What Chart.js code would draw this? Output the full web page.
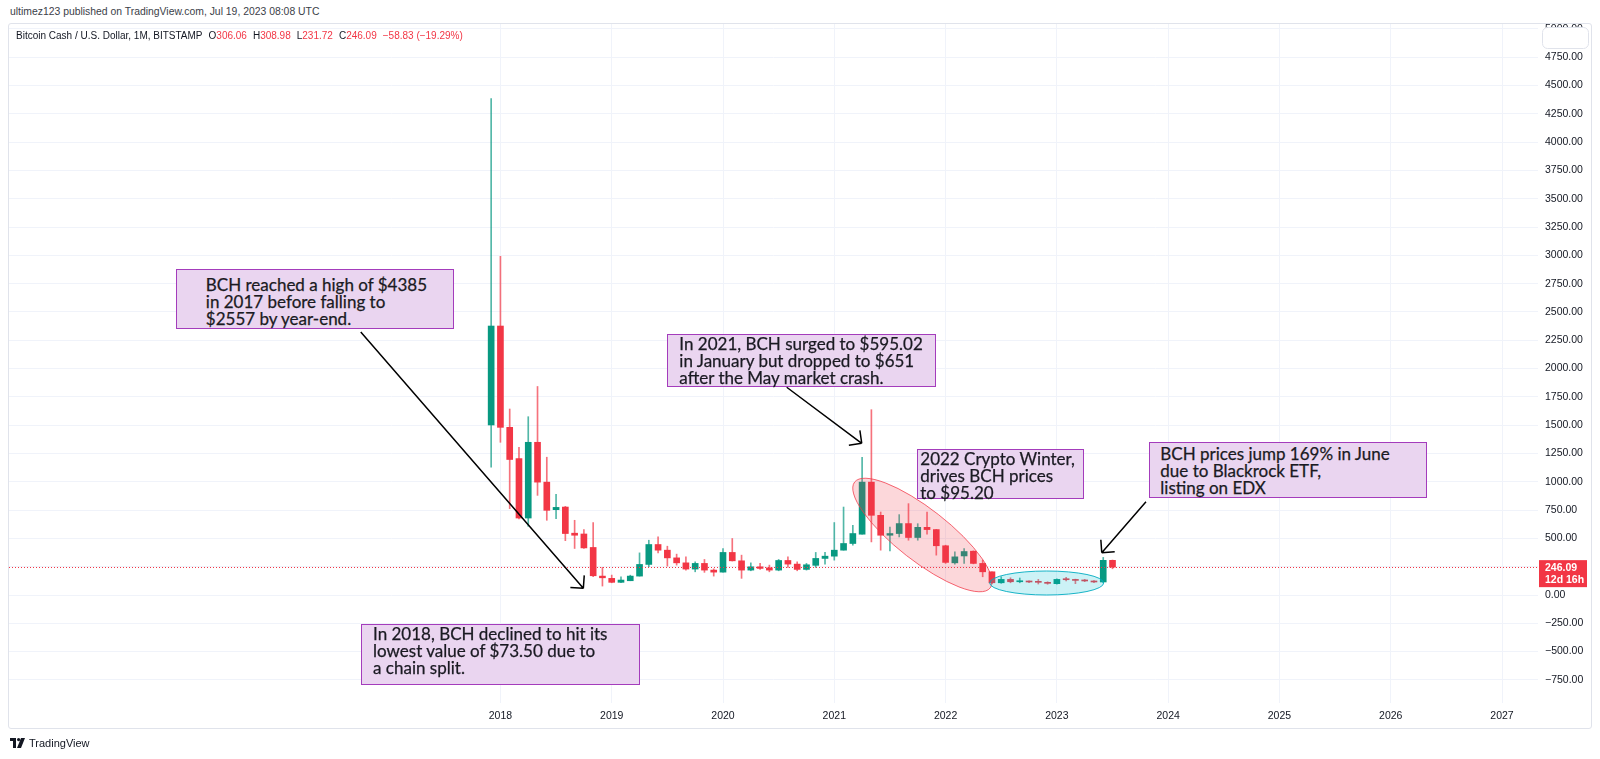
<!DOCTYPE html>
<html>
<head>
<meta charset="utf-8">
<script src="https://cdn.jsdelivr.net/npm/chart.js@4.4.0/dist/chart.umd.min.js"></script>
<style>
  html, body { margin: 0; padding: 0; background: #fff; }
  body { width: 1600px; height: 759px; position: relative; overflow: hidden; font-family: "Liberation Sans", Arial, sans-serif; color: #131722; }
  #frame { position: absolute; left: 8px; top: 23px; width: 1582px; height: 704px; border: 1px solid #e0e3eb; border-radius: 3px; }
  #chart { position: absolute; left: 0; top: 0; }
  #byline { position: absolute; left: 10px; top: 6px; font-size: 10.4px; color: #3b3e48; }
  #legend { position: absolute; left: 16px; top: 30px; font-size: 10px; white-space: pre; }
  #legend .v { color: #f23645; }
  #legend .k { margin-left: 6px; }
  #footer { position: absolute; left: 10px; top: 737px; font-size: 11px; display: flex; align-items: center; gap: 4px; }
  .note { position: absolute; box-sizing: border-box; background: #ead5f0; border: 1px solid #a43cbc;
          font-family: Lato, "Noto Sans", sans-serif; font-size: 17px; line-height: 17px; color: #1a1a22;
          -webkit-text-stroke: 0.25px #1a1a22; white-space: pre; }
</style>
</head>
<body>
<div id="frame"></div>
<div id="byline">ultimez123 published on TradingView.com, Jul 19, 2023 08:08 UTC</div>
<canvas id="chart" width="1600" height="759"></canvas>
<div id="legend">Bitcoin Cash / U.S. Dollar, 1M, BITSTAMP<span class="k">O</span><span class="v">306.06</span><span class="k">H</span><span class="v">308.98</span><span class="k">L</span><span class="v">231.72</span><span class="k">C</span><span class="v">246.09</span><span class="k v">−58.83 (−19.29%)</span></div>
<div id="footer">
  <svg width="15" height="10" viewBox="0 0 15 10"><path d="M0 0h6v10H3V3H0z M11 0h4l-4 10H7z" fill="#131722"/><circle cx="8.6" cy="1.6" r="1.6" fill="#131722"/></svg>
  <span>TradingView</span>
</div>

<script>
// monthly candles, BCH/USD Bitstamp
const months = [
  '2017-12',
  '2018-01','2018-02','2018-03','2018-04','2018-05','2018-06','2018-07','2018-08','2018-09','2018-10','2018-11','2018-12',
  '2019-01','2019-02','2019-03','2019-04','2019-05','2019-06','2019-07','2019-08','2019-09','2019-10','2019-11','2019-12',
  '2020-01','2020-02','2020-03','2020-04','2020-05','2020-06','2020-07','2020-08','2020-09','2020-10','2020-11','2020-12',
  '2021-01','2021-02','2021-03','2021-04','2021-05','2021-06','2021-07','2021-08','2021-09','2021-10','2021-11','2021-12',
  '2022-01','2022-02','2022-03','2022-04','2022-05','2022-06','2022-07','2022-08','2022-09','2022-10','2022-11','2022-12',
  '2023-01','2023-02','2023-03','2023-04','2023-05','2023-06','2023-07'
];
const opens = [
  1502,
  2376, 1481, 1205, 680, 1349, 997, 754, 777, 546, 539, 420, 167,
  147, 112, 126, 167, 270, 446, 396, 328, 284, 229, 279, 220,
  202, 376, 302, 220, 249, 240, 220, 305, 273, 226, 262, 323,
  343, 396, 455, 537, 997, 704, 528, 543, 631, 508, 598, 578,
  435, 284, 345, 387, 279, 205, 108, 138, 117, 120, 117, 112,
  100, 138, 135, 129, 124, 115, 306.06
];
const highs = [
  4385,
  2992, 1643, 1305, 1575, 1842, 1217, 889, 783, 660, 578, 640, 244,
  176, 161, 175, 372, 484, 513, 431, 361, 337, 293, 314, 231,
  411, 499, 352, 284, 279, 264, 314, 337, 293, 279, 376, 378,
  640, 777, 616, 1217, 1637, 733, 601, 710, 807, 630, 733, 580,
  440, 381, 411, 390, 308, 205, 161, 152, 150, 125, 138, 117,
  142, 156, 140, 138, 127, 332, 308.98
];
const lows = [
  1129,
  1349, 763, 672, 607, 880, 660, 675, 480, 411, 411, 161, 79,
  108, 108, 126, 167, 249, 372, 255, 264, 220, 205, 200, 167,
  202, 300, 147, 214, 226, 205, 214, 244, 214, 220, 244, 273,
  308, 396, 440, 537, 469, 396, 390, 513, 484, 484, 537, 352,
  279, 273, 279, 275, 161, 100, 103, 108, 108, 108, 97, 95,
  96, 124, 100, 118, 108, 108, 231.72
];
const closes = [
  2376,
  1481, 1197, 680, 1349, 997, 748, 774, 543, 528, 416, 170, 152,
  112, 132, 167, 270, 446, 396, 328, 284, 229, 279, 220, 202,
  376, 302, 220, 249, 235, 220, 305, 273, 226, 267, 323, 343,
  396, 455, 543, 997, 704, 528, 543, 631, 508, 598, 578, 435,
  288, 337, 384, 279, 205, 108, 138, 117, 126, 115, 112, 103,
  138, 135, 129, 124, 115, 306.06, 246.09
];
const yearLabels = ['2018','2019','2020','2021','2022','2023','2024','2025','2026','2027'];
const priceTicks = [-750, -500, -250, 0, 250, 500, 750, 1000, 1250, 1500, 1750, 2000, 2250, 2500,
  2750, 3000, 3250, 3500, 3750, 4000, 4250, 4500, 4750, 5000];

// annotations: anchor in data units (month index from Jan 2018, price)
const notes = [
  { m: -35.0, p: 2877, w: 278, h: 60, padL: 29, padT: 6, text: 'BCH reached a high of $4385\nin 2017 before falling to\n$2557 by year-end.' },
  { m: 18.0, p: 2303, w: 269, h: 53, padL: 11, padT: 0, text: 'In 2021, BCH surged to $595.02\nin January but dropped to $651\nafter the May market crash.' },
  { m: 44.95, p: 1290, w: 167, h: 50, padL: 2, padT: 0, text: '2022 Crypto Winter,\ndrives BCH prices\nto $95.20' },
  { m: 69.97, p: 1349, w: 278, h: 56, padL: 10, padT: 2, text: 'BCH prices jump 169% in June\ndue to Blackrock ETF,\nlisting on EDX' },
  { m: -15.03, p: -259, w: 279, h: 61, padL: 11, padT: 0, text: 'In 2018, BCH declined to hit its\nlowest value of $73.50 due to\na chain split.' }
];
const arrows = [
  { m1: -15.06, p1: 2323, m2: 8.94, p2: 59 },
  { m1: 30.87, p1: 1835, m2: 38.96, p2: 1340 },
  { m1: 69.61, p1: 824, m2: 64.84, p2: 374 }
];
const ellipses = [
  { m: 45.5, p: 530, rx: 86, ry: 26, rot: 38, fill: 'rgba(242,54,69,0.2)', stroke: 'rgba(242,54,69,0.75)' },
  { m: 58.9, p: 106, rx: 57, ry: 12, rot: 0, fill: 'rgba(0,188,212,0.2)', stroke: 'rgba(0,172,193,0.9)' }
];

const GREEN = '#089981';
const RED = '#f23645';

function monthIndex(s) {
  const [yy, mm] = s.split('-').map(Number);
  return (yy - 2018) * 12 + (mm - 1);
}
const xs = months.map(monthIndex);
const candleColor = xs.map((_, i) => closes[i] >= opens[i] ? GREEN : RED);
const wickColor = xs.map((_, i) => closes[i] >= opens[i] ? 'rgba(8,153,129,0.7)' : 'rgba(242,54,69,0.7)');
const lastClose = closes[closes.length - 1];

const noteEls = notes.map(n => {
  const d = document.createElement('div');
  d.className = 'note';
  d.textContent = n.text;
  d.style.width = n.w + 'px';
  d.style.height = n.h + 'px';
  d.style.paddingLeft = n.padL + 'px';
  d.style.paddingTop = n.padT + 'px';
  document.body.appendChild(d);
  return d;
});

const overlay = {
  id: 'overlay',
  afterDatasetsDraw(chart) {
    const { ctx, chartArea: a, scales: { x, y } } = chart;
    ctx.save();
    // ellipses
    ellipses.forEach(e => {
      ctx.beginPath();
      ctx.ellipse(x.getPixelForValue(e.m), y.getPixelForValue(e.p), e.rx, e.ry, e.rot * Math.PI / 180, 0, Math.PI * 2);
      ctx.fillStyle = e.fill;
      ctx.fill();
      ctx.strokeStyle = e.stroke;
      ctx.lineWidth = 1;
      ctx.stroke();
    });
    // last price dotted line
    const py = Math.round(y.getPixelForValue(lastClose)) + 0.5;
    ctx.setLineDash([1, 2]);
    ctx.strokeStyle = RED;
    ctx.beginPath();
    ctx.moveTo(a.left, py);
    ctx.lineTo(a.right, py);
    ctx.stroke();
    ctx.setLineDash([]);
    // arrows
    ctx.strokeStyle = '#000';
    ctx.lineWidth = 1.5;
    arrows.forEach(r => {
      const x1 = x.getPixelForValue(r.m1), y1 = y.getPixelForValue(r.p1);
      const x2 = x.getPixelForValue(r.m2), y2 = y.getPixelForValue(r.p2);
      const ang = Math.atan2(y2 - y1, x2 - x1);
      ctx.beginPath();
      ctx.moveTo(x1, y1);
      ctx.lineTo(x2, y2);
      [Math.PI - Math.PI / 4, Math.PI + Math.PI / 4].forEach(o => {
        ctx.moveTo(x2, y2);
        ctx.lineTo(x2 + 13 * Math.cos(ang + o), y2 + 13 * Math.sin(ang + o));
      });
      ctx.stroke();
    });
    ctx.restore();
  },
  afterDraw(chart) {
    const { ctx, chartArea: a, scales: { x, y } } = chart;
    ctx.save();
    // button box that hides most of the top price label
    ctx.beginPath();
    ctx.roundRect(a.right + 4.5, 27.5, 46, 21, 5);
    ctx.fillStyle = '#fff';
    ctx.fill();
    ctx.strokeStyle = '#e0e3eb';
    ctx.lineWidth = 1;
    ctx.stroke();
    // last price label
    const py = y.getPixelForValue(lastClose);
    ctx.fillStyle = RED;
    ctx.fillRect(a.right + 1, py - 7, 48, 27);
    ctx.fillStyle = '#fff';
    ctx.font = 'bold 10.5px "Liberation Sans", Arial, sans-serif';
    ctx.textBaseline = 'middle';
    ctx.fillText(lastClose.toFixed(2), a.right + 7, py + 0.5);
    ctx.fillText('12d 16h', a.right + 7, py + 13);
    ctx.restore();
    // note boxes
    notes.forEach((n, i) => {
      noteEls[i].style.left = x.getPixelForValue(n.m) + 'px';
      noteEls[i].style.top = y.getPixelForValue(n.p) + 'px';
    });
  }
};

new Chart(document.getElementById('chart'), {
  type: 'bar',
  data: {
    datasets: [
      {
        label: 'body',
        data: xs.map((m, i) => ({ x: m, y: [opens[i], closes[i]] })),
        backgroundColor: candleColor,
        borderWidth: 0,
        barThickness: 6,
        minBarLength: 1,
        grouped: false
      },
      {
        label: 'wick',
        data: xs.map((m, i) => ({ x: m, y: [lows[i], highs[i]] })),
        backgroundColor: wickColor,
        borderWidth: 0,
        barThickness: 1,
        grouped: false
      }
    ]
  },
  options: {
    responsive: false,
    devicePixelRatio: 1,
    animation: false,
    layout: { padding: { left: 9, right: 9, top: 24, bottom: 31 } },
    plugins: { legend: { display: false }, tooltip: { enabled: false } },
    scales: {
      x: {
        type: 'linear',
        offset: false,
        min: -52.99,
        max: 111.88,
        afterBuildTicks: s => { s.ticks = yearLabels.map((_, i) => ({ value: i * 12 })); },
        afterFit: s => { s.height = 25; },
        ticks: {
          autoSkip: false,
          maxRotation: 0,
          padding: 7,
          color: '#131722',
          font: { size: 10.5, family: '"Liberation Sans", Arial, sans-serif' },
          callback: v => yearLabels[v / 12]
        },
        grid: { color: '#f0f3fa', drawTicks: false, offset: false },
        border: { display: false }
      },
      y: {
        position: 'right',
        min: -954,
        max: 5044,
        afterBuildTicks: s => { s.ticks = priceTicks.map(v => ({ value: v })); },
        afterFit: s => { s.width = 53; },
        ticks: {
          padding: 7,
          color: '#131722',
          font: { size: 10.5, family: '"Liberation Sans", Arial, sans-serif' },
          callback: v => v.toFixed(2).replace('-', '\u2212')
        },
        grid: { color: '#f0f3fa', drawTicks: false },
        border: { display: false }
      }
    }
  },
  plugins: [overlay]
});
</script>
</body>
</html>
